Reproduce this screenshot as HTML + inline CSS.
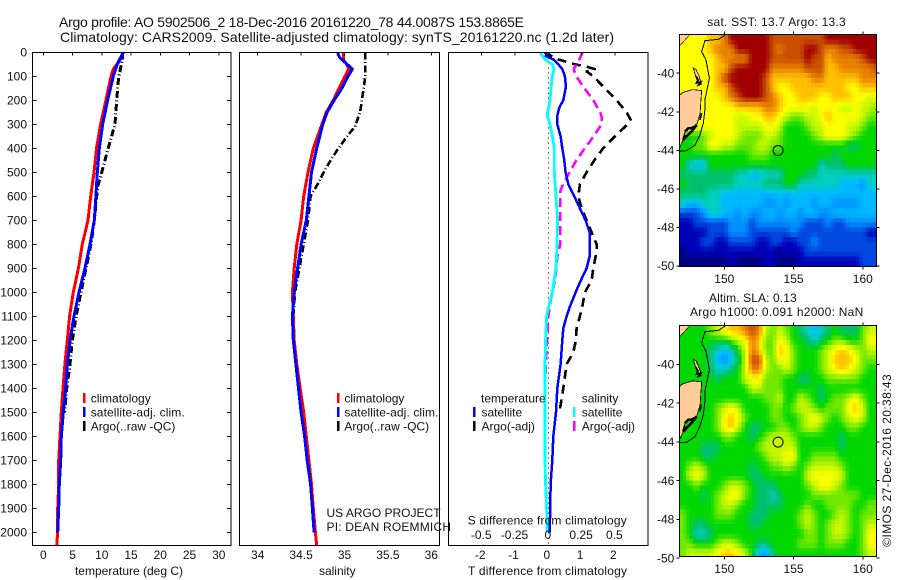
<!DOCTYPE html>
<html lang="en">
<head>
<meta charset="utf-8">
<title>Argo profile 5902506_2</title>
<style>
html,body{margin:0;padding:0;background:#fff;}
svg{display:block;font-family:"Liberation Sans",sans-serif;font-size:12px;fill:#000;}
text{fill:#111;}
</style>
</head>
<body>
<svg id="fig" xmlns="http://www.w3.org/2000/svg" width="900" height="580" viewBox="0 0 900 580">
  <defs>
    <clipPath id="clip-t"><rect x="32.5" y="52.3" width="198.5" height="493"/></clipPath>
    <clipPath id="clip-s"><rect x="239.5" y="52.3" width="200.2" height="493"/></clipPath>
    <clipPath id="clip-d"><rect x="448.5" y="52.3" width="199.5" height="493"/></clipPath>
    <clipPath id="clip-m1"><rect x="679.3" y="34.7" width="197.4" height="232"/></clipPath>
    <clipPath id="clip-m2"><rect x="679.3" y="325.7" width="197.4" height="231"/></clipPath>
  </defs>
  <text x="59" y="27" font-size="14" textLength="465">Argo profile: AO 5902506_2 18-Dec-2016 20161220_78 44.0087S 153.8865E</text>
  <text x="60" y="42" font-size="14" textLength="554">Climatology: CARS2009. Satellite-adjusted climatology: synTS_20161220.nc (1.2d later)</text>
  <g id="maps"></g>
  <g id="plots" shape-rendering="crispEdges"></g>
  <g id="axes" shape-rendering="crispEdges"></g>

  <text x="129" y="575" text-anchor="middle">temperature (deg C)</text>
  <text x="337.3" y="575" text-anchor="middle">salinity</text>
  <text x="547.5" y="575" text-anchor="middle" textLength="159">T difference from climatology</text>
  <text x="467.7" y="524.3" textLength="159">S difference from climatology</text>

  <g stroke-width="2.5" shape-rendering="crispEdges">
    <line x1="84" x2="84" y1="393" y2="403" stroke="#f00"/>
    <line x1="84" x2="84" y1="407" y2="417" stroke="#00f"/>
    <line x1="84" x2="84" y1="421" y2="431" stroke="#000"/>
    <text x="90.7" y="402.3" stroke="none">climatology</text>
    <text x="90.7" y="416.3" stroke="none" textLength="94">satellite-adj. clim.</text>
    <text x="90.7" y="430.3" stroke="none">Argo(..raw -QC)</text>
  </g>
  <g stroke-width="2.5" shape-rendering="crispEdges">
    <line x1="338" x2="338" y1="393" y2="403" stroke="#f00"/>
    <line x1="338" x2="338" y1="407" y2="417" stroke="#00f"/>
    <line x1="338" x2="338" y1="421" y2="431" stroke="#000"/>
    <text x="344.4" y="402.3" stroke="none">climatology</text>
    <text x="344.4" y="416.3" stroke="none" textLength="94">satellite-adj. clim.</text>
    <text x="344.4" y="430.3" stroke="none">Argo(..raw -QC)</text>
  </g>
  <g stroke-width="2.5" shape-rendering="crispEdges">
    <text x="481" y="402.3" stroke="none">temperature</text>
    <text x="581.7" y="402.3" stroke="none">salinity</text>
    <line x1="474" x2="474" y1="407" y2="417" stroke="#00f"/>
    <line x1="474" x2="474" y1="421" y2="431" stroke="#000"/>
    <line x1="574" x2="574" y1="407" y2="417" stroke="#0ff"/>
    <line x1="574" x2="574" y1="421" y2="431" stroke="#f0f"/>
    <text x="481.5" y="416.3" stroke="none">satellite</text>
    <text x="481.5" y="430.3" stroke="none">Argo(-adj)</text>
    <text x="581.7" y="416.3" stroke="none">satellite</text>
    <text x="581.7" y="430.3" stroke="none">Argo(-adj)</text>
  </g>
  <text x="326.5" y="517">US ARGO PROJECT</text>
  <text x="326.5" y="531" textLength="124.5">PI: DEAN ROEMMICH</text>

  <text x="707.3" y="26" textLength="138.4">sat. SST: 13.7 Argo: 13.3</text>
  <text x="709" y="302" textLength="87.7">Altim. SLA: 0.13</text>
  <text x="690" y="316" textLength="173.3">Argo h1000: 0.091 h2000: NaN</text>
  <text transform="translate(891,546.7) rotate(-90)" textLength="172.4">©IMOS 27-Dec-2016 20:38:43</text>
</svg>
<script>
// ---------- profile data ----------
const tempClimDepth = [0,50,70,100,200,300,400,500,600,700,800,900,1000,1100,1200,1300,1400,1500,1600,1700,1800,1900,2000,2055];
const tempClim = [13.7,12.6,11.97,11.57,10.7,9.8,9.1,8.67,8.1,7.64,6.67,6.0,5.13,4.5,4.1,3.7,3.37,3.08,2.86,2.63,2.63,2.46,2.46,2.29];
const tempSatDepth = [0,50,100,200,300,400,500,600,700,800,900,1000,1100,1200,1300,1400,1500,1600,1700,1800,1900,2000];
const tempSat = [13.7,12.65,11.97,11.0,10.15,9.57,9.23,9.0,8.72,7.98,7.13,6.1,5.25,4.56,4.1,3.83,3.42,3.08,2.97,2.74,2.63,2.46];
const tempArgoDepth = [0,30,80,100,200,300,400,500,550,600,700,800,900,1000,1100,1200,1300,1400,1500];
const tempArgo = [13.5,13.5,13.1,12.89,12.55,12.26,11.1,9.98,9.4,9.13,8.72,8.15,7.3,6.44,5.6,4.96,4.56,4.0,3.66];

const salClimDepth = [0,30,50,70,100,200,250,300,400,500,600,700,800,900,1000,1100,1200,1300,1400,1500,1600,1700,1800,1900,2000,2055];
const salClim = [34.986,34.986,35.025,35.05,35.005,34.87,34.79,34.74,34.64,34.58,34.53,34.5,34.45,34.42,34.4,34.41,34.42,34.45,34.49,34.53,34.56,34.59,34.62,34.64,34.665,34.68];
const salSatDepth = [0,20,40,70,100,150,200,250,300,400,500,600,700,800,900,1000,1100,1200,1300,1400,1500,1600,1700,1800,1900,2000];
const salSat = [34.92,34.94,35.0,35.09,35.04,34.97,34.88,34.8,34.75,34.68,34.62,34.59,34.56,34.5,34.46,34.42,34.4,34.41,34.44,34.47,34.5,34.54,34.57,34.61,34.63,34.65];
const salArgoDepth = [0,100,150,200,250,310,350,400,450,500,550,600,700,800,900,1000,1100];
const salArgo = [35.24,35.24,35.22,35.2,35.18,35.12,35.03,34.93,34.84,34.76,34.69,34.61,34.58,34.53,34.48,34.43,34.41];

const diffTSatDepth = [0,15,30,50,70,100,130,150,200,230,270,300,350,400,450,500,550,600,650,700,750,800,850,900,950,1000,1060,1100,1150,1200,1300,1400,1500,1600,1700,1800,1900,2000];
const diffTSat = [0.03,-0.08,0.15,0.3,0.42,0.5,0.52,0.52,0.45,0.33,0.26,0.27,0.37,0.42,0.48,0.52,0.6,0.78,0.95,1.12,1.24,1.25,1.24,1.15,0.98,0.82,0.65,0.55,0.45,0.42,0.37,0.27,0.23,0.15,0.12,0.07,0.06,0.04];
const diffTArgoDepth = [0,30,50,60,70,80,100,150,200,250,280,300,350,400,450,500,550,600,650,700,750,800,830,900,950,1000,1060,1100,1150,1200,1250,1300,1400,1485];
const diffTArgo = [-0.12,0.3,0.8,1.15,1.4,1.15,1.35,1.7,2.05,2.35,2.47,2.38,2.0,1.65,1.38,1.15,0.95,0.9,1.0,1.15,1.3,1.45,1.45,1.35,1.3,1.1,1.02,0.95,0.85,0.83,0.75,0.55,0.45,0.35];
const diffSSatDepth = [0,30,50,70,100,150,200,250,270,300,350,400,500,600,700,800,900,1000,1050,1100,1200,1300,1400,1500,1600,1700,1800,1900,2000];
const diffSSat = [-0.0625,-0.025,0.03,0.0425,0.03,0.02,0.0125,-0.005,-0.005,0.0125,0.03,0.045,0.045,0.0575,0.07,0.065,0.0575,0.03,0.0075,-0.0125,-0.02,-0.025,-0.025,-0.025,-0.025,-0.025,-0.02,-0.0125,-0.0075];
const diffSArgoDepth = [0,40,70,100,150,200,250,270,300,350,400,450,500,550,580,650,700,800,850,900,950,1000,1050,1100,1200,1400];
const diffSArgo = [0.2575,0.225,0.19,0.21,0.27,0.3375,0.39,0.4,0.4,0.34,0.275,0.21,0.16,0.11,0.09,0.0875,0.09,0.09,0.0675,0.06,0.05,0.03,0.0125,0,-0.01,-0.025];

// ---------- tick labels ----------
const depthTicks = [0,100,200,300,400,500,600,700,800,900,1000,1100,1200,1300,1400,1500,1600,1700,1800,1900,2000];
const tempTicks = [0,5,10,15,20,25,30];
const salTicks = [34,34.5,35,35.5,36];
const diffTTicks = [-2,-1,0,1,2];
const diffSTickLabels = ['-0.5','-0.25','0','0.25','0.5'];
const diffSTicks = [-0.5,-0.25,0,0.25,0.5];
const mapLatTicks = [-40,-42,-44,-46,-48,-50];
const mapLonTicks = [150,155,160];
const argoLon = 153.8865;
const argoLat = -44.0087;

// ---------- gridded maps: colour-scale level, 0.5 degree cells, north to south ----------
const sstLevels = [
[10,10,10,10,11,11,12,14,14,14,14,14,14,13,13,13,13,13,13,13,13,14,14,14,14,14,14,14,14],
[10,10,10,10,11,12,12,12,14,14,14,14,14,13,12,13,13,13,14,14,13,12,12,13,13,14,14,14,14],
[10,10,10,10,10,11,12,12,12,12,14,14,14,13,13,13,13,13,14,13,13,11,12,12,12,12,13,14,14],
[10,10,10,10,10,11,11,13,14,14,14,14,14,12,12,12,12,12,13,13,13,11,11,12,12,12,12,12,13],
[10,10,10,10,10,11,13,14,14,14,14,14,13,11,11,11,11,11,11,12,12,11,11,11,11,11,12,12,12],
[10,10,10,10,10,11,11,13,14,14,14,14,13,11,10,10,11,11,11,11,11,11,11,11,10,10,11,11,11],
[10,10,10,10,10,10,11,12,13,14,14,14,13,12,11,10,10,11,11,11,10,10,11,11,11,10,10,9,10],
[10,10,10,10,10,10,10,10,11,11,11,11,12,12,11,10,10,10,10,9,10,10,10,9,9,10,9,9,8],
[10,10,10,10,10,10,10,10,9,9,10,10,11,11,10,9,8,8,9,9,10,11,10,10,10,10,9,8,8],
[10,10,10,10,10,10,10,10,9,9,9,9,10,10,9,7,7,7,8,9,9,10,10,10,9,9,8,7,7],
[7,7,7,8,9,10,10,10,9,8,8,8,9,9,8,7,7,7,7,8,9,10,10,10,9,8,7,7,7],
[7,7,8,8,10,10,9,9,8,8,8,9,9,8,8,7,7,7,7,7,7,7,7,7,6,6,7,7,7],
[7,7,7,7,7,7,7,7,7,7,8,8,8,7,7,7,7,7,7,7,7,7,6,7,7,7,7,7,7],
[7,5,4,4,7,7,7,7,7,7,7,7,7,7,7,7,7,7,7,7,5,6,6,6,7,7,7,7,7],
[6,6,6,6,6,6,6,6,5,5,4,4,5,5,5,7,7,7,6,6,5,5,5,5,5,5,5,5,5],
[7,6,6,6,6,6,6,6,5,5,5,5,6,6,6,7,7,5,5,5,5,5,5,4,4,4,3,5,5],
[6,6,6,6,5,5,4,4,4,4,4,4,4,4,4,4,4,4,4,4,4,4,4,4,4,4,4,4,4],
[5,4,4,5,5,5,4,4,4,4,4,4,3,3,4,3,4,4,4,3,4,4,3,3,3,3,4,4,4],
[2,2,2,3,5,5,4,4,3,4,3,3,4,4,3,4,4,3,4,4,3,3,4,4,4,4,4,4,4],
[1,1,2,2,2,2,2,3,3,3,2,3,3,3,3,3,3,3,2,2,2,3,2,2,3,3,3,3,3],
[1,1,1,1,2,2,2,3,3,3,2,2,2,2,2,2,3,2,2,2,2,2,2,2,2,2,2,1,1],
[1,1,1,2,2,1,1,2,2,2,2,1,1,2,2,1,1,2,2,3,2,2,2,2,2,2,2,2,2],
[0,1,1,1,1,1,1,1,1,1,1,1,1,1,0,1,1,1,2,2,2,2,2,2,2,2,2,2,2],
[0,0,0,0,0,0,0,1,0,0,0,0,1,1,0,0,0,1,1,1,1,1,1,1,1,1,2,2,2]
];
const slaLevels = [
[7,7,7,7,8,9,10,11,11,12,13,12,9,8,9,8,7,6,5,4,5,6,7,6,6,6,8,9,9],
[7,7,7,7,7,7,7,8,9,10,12,11,8,8,10,9,7,7,6,5,6,7,8,8,7,7,8,10,10],
[7,7,7,7,6,5,4,5,7,9,12,11,8,8,11,10,8,7,7,7,8,9,10,11,10,9,8,9,9],
[7,7,7,7,6,4,3,4,6,9,13,13,9,8,10,10,8,7,7,7,8,9,11,11,11,10,8,8,8],
[7,7,7,7,6,5,5,6,7,9,12,12,9,8,8,9,8,7,7,7,8,9,10,11,10,9,8,7,7],
[7,7,7,7,7,6,7,7,7,9,10,10,8,8,8,7,7,6,6,7,7,8,8,8,8,8,7,7,7],
[7,7,7,7,7,7,7,7,7,7,9,9,8,8,8,7,7,7,7,7,6,7,7,7,7,7,7,7,7],
[7,7,7,7,7,7,7,7,7,7,7,7,8,8,9,7,7,9,8,7,6,7,8,8,9,10,8,7,7],
[7,7,7,7,7,8,9,10,9,7,7,7,7,8,8,7,8,9,9,8,7,8,8,8,10,11,9,7,7],
[7,7,7,7,7,8,10,11,10,8,7,7,7,8,8,7,7,8,9,10,9,8,7,8,9,10,9,7,7],
[7,7,7,7,7,8,10,11,9,7,6,6,7,7,8,8,7,8,9,9,8,7,7,7,8,8,7,7,7],
[7,7,7,7,7,7,8,8,7,7,6,7,8,9,9,9,8,7,7,7,7,7,7,6,7,7,7,7,7],
[7,7,7,6,6,6,7,7,7,7,7,8,9,9,9,9,9,7,7,7,7,7,7,6,7,7,7,7,7],
[7,7,7,6,6,7,7,7,7,7,7,7,8,9,9,10,10,7,7,8,8,8,8,7,7,7,7,7,7],
[7,8,9,8,7,7,7,7,7,7,6,7,7,8,8,9,8,7,8,9,9,9,9,8,7,7,7,7,7],
[7,9,10,9,7,7,7,7,7,7,6,6,7,7,7,7,7,7,9,10,10,10,10,9,7,7,7,7,7],
[7,7,8,7,7,7,8,9,9,8,7,6,6,6,7,7,7,7,8,9,10,10,9,8,7,7,7,7,7],
[7,7,7,6,7,8,9,10,10,8,7,6,6,5,6,7,7,7,7,8,8,8,8,8,8,8,7,7,7],
[7,7,7,7,7,8,9,9,8,7,7,6,6,6,6,7,7,7,8,7,7,8,8,8,8,7,7,8,8],
[8,7,7,7,7,8,8,8,7,7,6,6,6,7,7,7,7,8,9,8,7,7,8,9,8,7,8,8,8],
[8,7,6,6,7,7,7,7,7,7,6,6,7,7,7,7,7,8,9,8,7,8,9,9,8,7,8,9,9],
[8,7,5,5,6,7,7,7,7,7,7,7,7,7,7,7,7,7,8,8,7,8,9,9,8,7,8,10,10],
[8,8,7,7,7,8,9,9,8,7,7,6,6,7,7,7,7,8,8,8,7,8,8,8,7,7,8,10,10],
[8,9,9,9,9,10,11,11,10,9,7,4,3,6,7,7,7,7,7,7,7,7,7,7,7,7,8,9,9]
];
// ---------- coast geometry (lon, lat) ----------
const shelfLon = [150.05,149.57,148.6,148.36,148.68,148.92,148.6,148.6,148.48,148.24,147.88,147.28,146.75];
const shelfLat = [-38.03,-38.24,-38.31,-38.88,-39.31,-40.27,-41.39,-41.91,-42.6,-43.2,-43.73,-44.02,-44.04];
const tasLon = [146.75,147.0,147.7,148.37,148.3,148.25,148.0,147.4,147.16,147.04,146.75];
const tasLat = [-41.15,-41.0,-40.85,-40.9,-41.5,-42.1,-42.69,-42.86,-43.03,-43.46,-43.9];
const flindersLon = [147.76,147.95,148.15,148.3,148.2,147.95];
const flindersLat = [-39.74,-39.8,-40.1,-40.45,-40.6,-40.2];
const flindersCoastLon = [147.95,148.1,148.0,148.3,148.15,148.35];
const flindersCoastLat = [-40.15,-40.35,-40.5,-40.45,-40.6,-40.55];
const vicLon = [146.75,147.5,146.75];
const vicLat = [-38,-38,-38.6];
const tasSeLon = [147.16,147.4,147.76,148.0,147.64,147.4,147.04,147.16];
const tasSeLat = [-43.03,-42.86,-42.86,-42.69,-43.03,-43.2,-43.46,-43.2];
const tasEastLon = [148.36,148.24,148.3];
const tasEastLat = [-42.08,-42.43,-42.2];

// ---------- palette ----------
const palette = ['#00007f','#0000b8','#0048e0','#0090ff','#00b8ff','#00d0c0','#00c070','#00d800','#70e800','#c8f800','#ffff00','#ffc000','#e88000','#c85000','#a00000'];

const NS = 'http://www.w3.org/2000/svg';
const plots = document.getElementById('plots');
const axes = document.getElementById('axes');
const maps = document.getElementById('maps');

function el(tag, parent, attrs) {
  const e = document.createElementNS(NS, tag);
  for (const k in attrs) e.setAttribute(k, attrs[k]);
  parent.appendChild(e);
  return e;
}
const yDepth = d => 52.3 + 0.24 * d;
const xTemp = v => 43.3 + 5.85 * v;
const xSal = v => 257.7 + 86.8 * (v - 34);
const xDT = v => 548.3 + 33.3 * v;
const xDS = v => 548.3 + 133.2 * v;

function profile(parent, name, depth, vals, xf, color, dash, clip, width) {
  const pts = depth.map((d, i) => xf(vals[i]).toFixed(1) + ',' + yDepth(d).toFixed(1)).join(' ');
  const line = el('polyline', parent, {points: pts, fill: 'none', stroke: color, 'stroke-width': width, 'clip-path': 'url(#' + clip + ')', 'stroke-linejoin': 'round'});
  if (dash) line.setAttribute('stroke-dasharray', dash);
  
  
}
const argoDash = '7 2.5 1 2.5';
profile(plots, 'temperature-argo-line', tempArgoDepth, tempArgo, xTemp, '#000', argoDash, 'clip-t', 3);
profile(plots, 'temperature-climatology-line', tempClimDepth, tempClim, xTemp, '#f00', null, 'clip-t', 3);
profile(plots, 'temperature-satellite-line', tempSatDepth, tempSat, xTemp, '#00f', null, 'clip-t', 3);
profile(plots, 'salinity-argo-line', salArgoDepth, salArgo, xSal, '#000', argoDash, 'clip-s', 2.6);
profile(plots, 'salinity-climatology-line', salClimDepth, salClim, xSal, '#f00', null, 'clip-s', 3);
profile(plots, 'salinity-satellite-line', salSatDepth, salSat, xSal, '#00f', null, 'clip-s', 3);

const zeroLine = el('line', plots, {x1: xDT(0), x2: xDT(0), y1: 52.3, y2: 545.3, stroke: '#000', 'stroke-width': 1, 'stroke-dasharray': '1 4'});


profile(plots, 't-difference-argo-line', diffTArgoDepth, diffTArgo, xDT, '#000', '9 6', 'clip-d', 2.6);
profile(plots, 's-difference-argo-line', diffSArgoDepth, diffSArgo, xDS, '#f0f', '9 5', 'clip-d', 2.6);
profile(plots, 't-difference-satellite-line', diffTSatDepth, diffTSat, xDT, '#00f', null, 'clip-d', 2.5);
profile(plots, 's-difference-satellite-line', diffSSatDepth, diffSSat, xDS, '#0ff', null, 'clip-d', 2.8);

// ---------- axes ----------
function frame(name, x, y, w, h) {
  const r = el('rect', axes, {x: x, y: y, width: w, height: h, fill: 'none', stroke: '#000', 'stroke-width': 1});
  
  
}
function tick(name, x1, y1, x2, y2) {
  const t = el('line', axes, {x1: x1, y1: y1, x2: x2, y2: y2, stroke: '#000', 'stroke-width': 1});
  
  
}
function label(name, x, y, str, anchor) {
  const t = el('text', axes, {x: x, y: y, 'text-anchor': anchor});
  t.textContent = str;
  
  
}
frame('temperature-plot-frame', 32.5, 52.3, 198.5, 493);
frame('salinity-plot-frame', 239.5, 52.3, 200.2, 493);
frame('difference-plot-frame', 448.5, 52.3, 199.5, 493);

depthTicks.forEach(d => {
  const y = yDepth(d);
  tick('depth-tick-left', 32.5, y, 36.5, y);
  tick('depth-tick-right', 231, y, 227, y);
  label('depth-tick-label', 27, y + 4.2, String(d), 'end');
});
tempTicks.forEach(v => {
  tick('temperature-tick', xTemp(v), 52.3, xTemp(v), 55.3);
  label('temperature-tick-label', xTemp(v), 559.2, String(v), 'middle');
});
salTicks.forEach(v => {
  tick('salinity-tick', xSal(v), 52.3, xSal(v), 55.3);
  label('salinity-tick-label', xSal(v), 559.2, String(v), 'middle');
});
diffTTicks.forEach(v => {
  tick('t-difference-tick', xDT(v), 52.3, xDT(v), 55.3);
  label('t-difference-tick-label', xDT(v) - 1.5, 559.2, String(v), 'middle');
});
diffSTicks.forEach((v, i) => {
  label('s-difference-tick-label', xDS(v) - 0.5, 539.2, diffSTickLabels[i], 'middle');
});

// ---------- maps ----------
const mapW = 197.4;
const lonPx = 13.85;
const map1 = {x: 679.3, y: 34.7, h: 232, latPx: 19.27, clip: 'clip-m1', key: 'sst'};
const map2 = {x: 679.3, y: 325.7, h: 231, latPx: 19.37, clip: 'clip-m2', key: 'sla'};
const mx = (m, lon) => m.x + (lon - 146.75) * lonPx;
const my = (m, lat) => m.y + (-38 - lat) * m.latPx;

function hexToRgb(h) { return [parseInt(h.slice(1,3),16), parseInt(h.slice(3,5),16), parseInt(h.slice(5,7),16)]; }
function levelColor(v) {
  const i = Math.max(0, Math.min(palette.length - 2, Math.floor(v)));
  const f = Math.max(0, Math.min(1, v - i));
  const a = hexToRgb(palette[i]), b = hexToRgb(palette[i + 1]);
  return 'rgb(' + a.map((c, k) => Math.round(c + (b[k] - c) * f)).join(',') + ')';
}

// Both fields are resampled to 0.25 degree blocks
function drawField(m, levels, groupName, cellName) {
  const group = el('g', maps, {'clip-path': 'url(#' + m.clip + ')', 'shape-rendering': 'crispEdges'});
  
  
  const nR = levels.length, nC = levels[0].length;
  for (let i = 0; i < nR * 2; i++) {
    for (let j = 0; j < nC * 2; j++) {
      const fr = Math.max(0, Math.min(nR - 1.001, (i + 0.5) / 2 - 0.5));
      const fc = Math.max(0, Math.min(nC - 1.001, (j + 0.5) / 2 - 0.5));
      const r0 = Math.floor(fr), c0 = Math.floor(fc), dr = fr - r0, dc = fc - c0;
      const v = levels[r0][c0] * (1 - dr) * (1 - dc) + levels[r0][c0 + 1] * (1 - dr) * dc + levels[r0 + 1][c0] * dr * (1 - dc) + levels[r0 + 1][c0 + 1] * dr * dc;
      const cell = el('rect', group, {x: (m.x + j * 0.25 * lonPx).toFixed(2), y: (m.y + i * 0.25 * m.latPx).toFixed(2), width: (0.25 * lonPx + 0.4).toFixed(2), height: (0.25 * m.latPx + 0.4).toFixed(2), fill: levelColor(v)});
      
      
    }
  }
}
drawField(map1, sstLevels, 'sst-heatmap', 'sst-cell');
drawField(map2, slaLevels, 'sla-heatmap', 'sla-cell');

function geoPts(m, lons, lats) {
  return lons.map((lo, i) => mx(m, lo).toFixed(1) + ',' + my(m, lats[i]).toFixed(1)).join(' ');
}
[map1, map2].forEach(m => {
  const g = el('g', maps, {'clip-path': 'url(#' + m.clip + ')', 'shape-rendering': 'crispEdges'});
  
  

  const tas = el('polygon', g, {points: geoPts(m, tasLon, tasLat), fill: '#ffcc99', stroke: '#000', 'stroke-width': 0.8});
  
  
  const flinders = el('polygon', g, {points: geoPts(m, flindersLon, flindersLat), fill: '#ffcc99', stroke: '#000', 'stroke-width': 0.8});
  
  
  const flindersCoast = el('polyline', g, {points: geoPts(m, flindersCoastLon, flindersCoastLat), fill: 'none', stroke: '#000', 'stroke-width': 1.8});
  
  
  const vic = el('polygon', g, {points: geoPts(m, vicLon, vicLat), fill: '#ffcc99', stroke: '#000', 'stroke-width': 0.6});
  
  
  const se = el('polyline', g, {points: geoPts(m, tasSeLon, tasSeLat), fill: 'none', stroke: '#000', 'stroke-width': 2.5});
  
  
  const east = el('polyline', g, {points: geoPts(m, tasEastLon, tasEastLat), fill: 'none', stroke: '#000', 'stroke-width': 1.5});
  
  
  const shelf = el('polyline', g, {points: geoPts(m, shelfLon, shelfLat), fill: 'none', stroke: '#000', 'stroke-width': 1});
  
  

  const marker = el('circle', maps, {cx: mx(m, argoLon).toFixed(1), cy: my(m, argoLat).toFixed(1), r: 5, fill: 'none', stroke: '#000', 'stroke-width': 1});
  
  

  frame(m.key + '-map-frame', m.x, m.y, mapW, m.h);
  mapLatTicks.forEach(lat => {
    const y = my(m, lat);
    tick('latitude-tick-left', m.x - 3, y, m.x, y);
    tick('latitude-tick-right', m.x + mapW, y, m.x + mapW + 3, y);
    label('latitude-tick-label', m.x - 5, y + 4.2, String(lat), 'end');
  });
  mapLonTicks.forEach(lon => {
    const x = mx(m, lon);
    tick('longitude-tick-top', x, m.y - 3, x, m.y);
    tick('longitude-tick-bottom', x, m.y + m.h, x, m.y + m.h + 3);
    label('longitude-tick-label', x, m.y + m.h + 16.5, String(lon), 'middle');
  });
});
</script>
</body>
</html>
